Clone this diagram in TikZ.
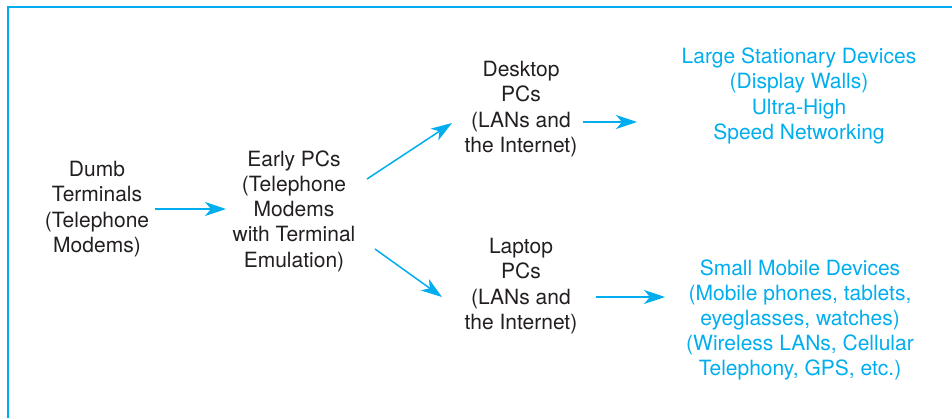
\documentclass[tikz,border=0pt]{standalone}
\usepackage{fontspec}
\setmainfont{TeX Gyre Heros}
\usetikzlibrary{arrows.meta}
\definecolor{pcyan}{RGB}{0,174,239}
\definecolor{ink}{RGB}{35,31,32}

\begin{document}
\begin{tikzpicture}[x=1pt,y=1pt]
\tikzstyle{every node}+=[align=center,inner sep=3pt,text=ink,font=\fontsize{21}{25.2}\selectfont]
\tikzstyle{goal}=[text=pcyan]
\tikzstyle{arr}=[draw=pcyan,line width=1.5pt,-{Stealth[length=21pt,width=14pt,inset=6pt]}]

\useasboundingbox (0,0) rectangle (952,-418);
\draw[pcyan,line width=2pt] (7.5,-418) -- (7.5,-6.5) -- (952,-6.5);

\node (dumb) at (97,-209) {Dumb\\Terminals\\(Telephone\\Modems)};
\node (early) at (294,-211) {Early PCs\\(Telephone\\Modems\\with Terminal\\Emulation)};
\node (desktop) at (521,-109) {Desktop\\PCs\\(LANs and\\the Internet)};
\node (laptop) at (521,-286) {Laptop\\PCs\\(LANs and\\the Internet)};
\node (large) [goal] at (799,-96) {Large Stationary Devices\\(Display Walls)\\Ultra-High\\Speed Networking};
\node (small) [goal] at (800,-320) {Small Mobile Devices\\(Mobile phones, tablets,\\eyeglasses, watches)\\(Wireless LANs, Cellular\\Telephony, GPS, etc.)};

\path
  ([xshift=58pt]dumb.center) edge[arr] ([shift={(-68,2)}]early.center)
  ([shift={(73,32)}]early.center) edge[arr] ([shift={(-69,-14)}]desktop.center)
  ([shift={(81,-38)}]early.center) edge[arr] ([shift={(-79,-11)}]laptop.center)
  ([shift={(62,-13)}]desktop.center) edge[arr] ([shift={(-162,-26)}]large.center)
  ([shift={(75,-11)}]laptop.center) edge[arr] ([shift={(-135,23)}]small.center)
;
\end{tikzpicture}
\end{document}
